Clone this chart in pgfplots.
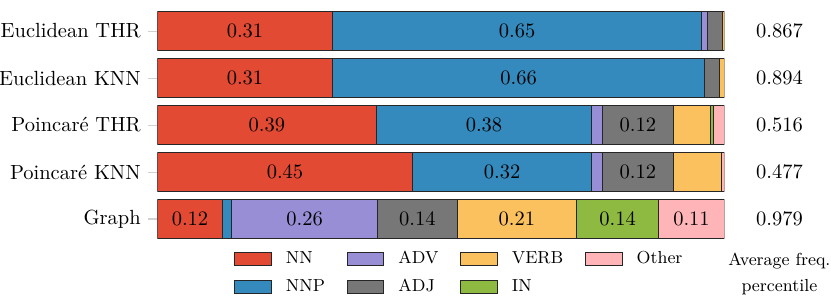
\documentclass[border=0pt]{standalone}
\usepackage{fontspec}
\usepackage{pgfplots}
\pgfplotsset{compat=1.18}
\definecolor{cNN}{HTML}{E24A33}
\definecolor{cNNP}{HTML}{348ABD}
\definecolor{cADV}{HTML}{988ED5}
\definecolor{cADJ}{HTML}{777777}
\definecolor{cVERB}{HTML}{FBC15E}
\definecolor{cIN}{HTML}{8EBA42}
\definecolor{cOther}{HTML}{FFB5B8}
\pgfplotsset{
  common/.style={
    scale only axis, width=276.6pt, height=114.6pt,
    xmin=0, xmax=1, ymin=-0.5, ymax=4.5, y dir=reverse,
    at={(0pt,0pt)}, anchor=south west,
  },
  segment/.style={draw=black!85, line width=0.5pt, forget plot},
}
\begin{document}
\begin{tikzpicture}
\begin{axis}[common,
  xbar stacked, bar width=19pt,
  axis x line=none, axis y line*=left,
  y axis line style={draw=none},
  ytick={0,1,2,3,4},
  yticklabels={Euclidean THR, Euclidean KNN, Poincaré THR, Poincaré KNN, Graph},
  tick align=outside, major tick length=4.6pt,
  ytick style={draw=black!18, line width=0.5pt},
  legend columns=4,
  legend image code/.code={\draw[#1] (0pt,-3.15pt) rectangle (18pt,3.15pt);},
  legend style={at={(0.1353,-0.0366)}, anchor=north west, draw=none, fill=none,
    inner sep=0pt, outer sep=0pt,
    font=\fontsize{8.5}{10}\selectfont,
    row sep=6pt,
    nodes={inner sep=0pt, text height=6pt, text depth=1.7pt},
    /tikz/every odd column/.append style={column sep=6.8pt},
    /tikz/every even column/.append style={column sep=10.5pt}},
  legend cell align=left,
]
\addplot[segment, fill=cNN]    coordinates {(0.309,0) (0.309,1) (0.386,2) (0.450,3) (0.115,4)};
\addplot[segment, fill=cNNP]   coordinates {(0.651,0) (0.656,1) (0.380,2) (0.316,3) (0.016,4)};
\addplot[segment, fill=cADV]   coordinates {(0.010,0) (0.000,1) (0.019,2) (0.019,3) (0.257,4)};
\addplot[segment, fill=cADJ]   coordinates {(0.026,0) (0.026,1) (0.125,2) (0.125,3) (0.141,4)};
\addplot[segment, fill=cVERB]  coordinates {(0.004,0) (0.009,1) (0.065,2) (0.085,3) (0.210,4)};
\addplot[segment, fill=cIN]    coordinates {(0.000,0) (0.000,1) (0.005,2) (0.000,3) (0.145,4)};
\addplot[segment, fill=cOther] coordinates {(0.000,0) (0.000,1) (0.020,2) (0.005,3) (0.116,4)};
\addlegendimage{fill=cNN, draw=black!85, line width=0.5pt}\addlegendentry{NN}
\addlegendimage{fill=cADV, draw=black!85, line width=0.5pt}\addlegendentry{ADV}
\addlegendimage{fill=cVERB, draw=black!85, line width=0.5pt}\addlegendentry{VERB}
\addlegendimage{fill=cOther, draw=black!85, line width=0.5pt}\addlegendentry{Other}
\addlegendimage{fill=cNNP, draw=black!85, line width=0.5pt}\addlegendentry{NNP}
\addlegendimage{fill=cADJ, draw=black!85, line width=0.5pt}\addlegendentry{ADJ}
\addlegendimage{fill=cIN, draw=black!85, line width=0.5pt}\addlegendentry{IN}
\end{axis}
\begin{axis}[common, hide axis, clip=false]
\addplot[draw=none, nodes near coords, point meta=explicit symbolic,
  every node near coord/.style={anchor=center, text=black, font=\fontsize{10}{12}\selectfont}]
  coordinates {
    (0.1545,0) [0.31] (0.6345,0) [0.65]
    (0.1545,1) [0.31] (0.6370,1) [0.66]
    (0.1930,2) [0.39] (0.5760,2) [0.38] (0.8475,2) [0.12]
    (0.2250,3) [0.45] (0.6080,3) [0.32] (0.8475,3) [0.12]
    (0.0575,4) [0.12] (0.2595,4) [0.26] (0.4585,4) [0.14]
    (0.6340,4) [0.21] (0.8115,4) [0.14] (0.9420,4) [0.11]
  };
\addplot[draw=none, nodes near coords, point meta=explicit symbolic,
  every node near coord/.style={anchor=center, text=black, font=\fontsize{10}{12}\selectfont}]
  coordinates {
    (1.097,0) [0.867] (1.097,1) [0.894] (1.097,2) [0.516]
    (1.097,3) [0.477] (1.097,4) [0.979]
  };
\node[align=center, font=\fontsize{8.5}{12.4}\selectfont] at (axis cs:1.097,5.17) {Average freq.\\percentile};
\end{axis}
\pgfresetboundingbox
\path[use as bounding box] (-76.8pt,-29pt) rectangle (328.6pt,118.3pt);
\end{tikzpicture}
\end{document}
